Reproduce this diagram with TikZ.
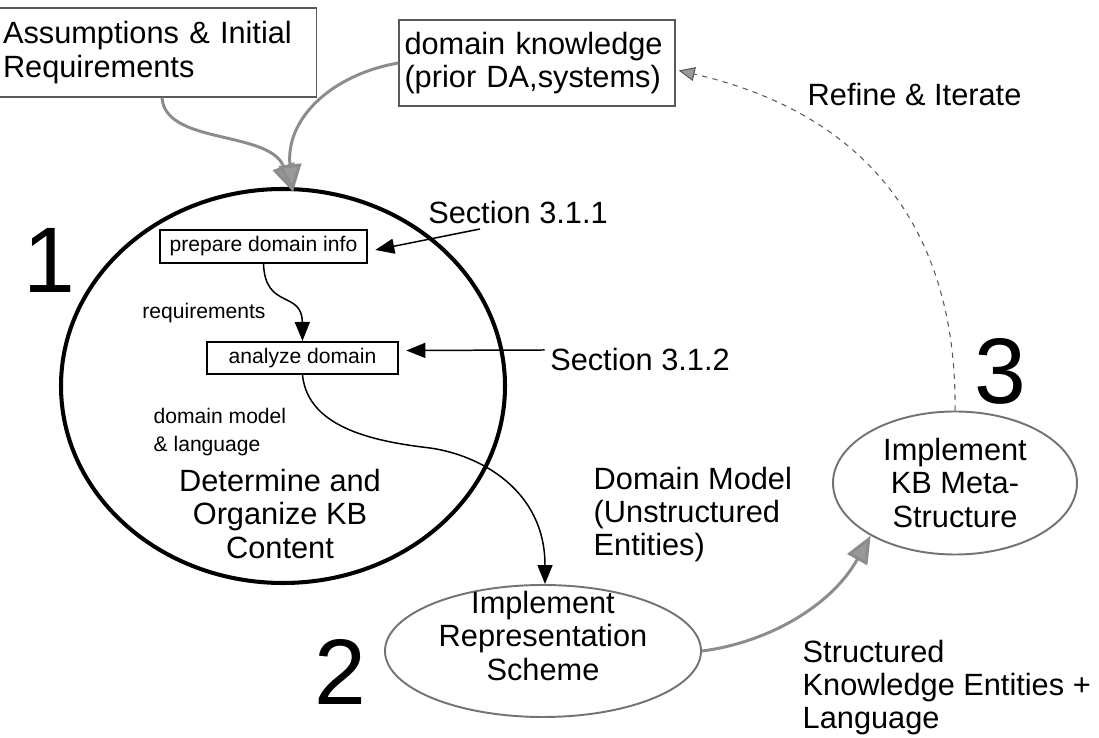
\documentclass[tikz,border=0pt]{standalone}
\usepackage{fontspec}
\setmainfont{Liberation Sans}
\usetikzlibrary{shapes.geometric,arrows.meta}

\begin{document}
\begin{tikzpicture}[thick,>={Triangle[length=3.8mm,width=3mm]},
			big text/.style={font=\fontsize{17.5}{19}\selectfont,align=center,inner sep=0pt},
			side text/.style={font=\fontsize{17.5}{18.5}\selectfont,align=left,inner sep=0pt},
			small text/.style={font=\fontsize{12}{15.5}\selectfont,align=left,inner sep=0pt},
			stage num/.style={font=\fontsize{53}{53}\selectfont,inner sep=0pt},
			input box/.style={draw=black!65,line width=0.8pt,align=left,font=\fontsize{17.5}{19}\selectfont,inner xsep=2pt},
			task box/.style={draw,line width=0.9pt,font=\fontsize{12}{14}\selectfont,minimum height=0.65cm},
			main stage/.style={ellipse,draw,line width=2.3pt,minimum width=8.88cm,minimum height=7.88cm},
			sub stage/.style={ellipse,draw=black!55,line width=1.1pt},
			flow/.style={->,black,line width=0.85pt},
			gray flow/.style={draw=black!45,line width=1.7pt,-{Triangle[length=5.5mm,width=4.5mm,fill=black!40]}},
			iterate/.style={draw=black!65,line width=0.6pt,dash pattern=on 3pt off 3pt,-{Triangle[length=3.2mm,width=2.8mm,fill=black!40]}}
			]
		\useasboundingbox (0,0) rectangle (21.98,14.76);
		% inputs
		\node [input box, minimum width=6.3cm, minimum height=1.78cm, text width=6.2cm] (assume) at (3.16,13.71) {Assumptions \& Initial\\Requirements};
		\node [input box, minimum width=5.52cm, minimum height=1.72cm, text width=5.3cm] (domk) at (10.74,13.5) {domain knowledge\\(prior DA,systems)};

		% stage 1
		\node [main stage] (content) at (5.66,7.04) {};
		\node [stage num] (n1) at (0.98,9.56) {1};
		\node [task box, minimum width=4.14cm] (prep) at (5.27,9.83) {prepare domain info};
		\node [task box, minimum width=3.82cm] (ana) at (6.05,7.6) {analyze domain};
		\node [small text] (req) at (4.08,8.5) {requirements};
		\node [small text, anchor=north west] (dmodel) at (3.06,6.6) {domain model\\\& language};
		\node [big text] (organize) at (5.6,4.48) {Determine and\\Organize KB\\Content};
		\node [big text] (sec1) at (10.36,10.5) {Section 3.1.1};
		\node [big text] (sec2) at (12.8,7.56) {Section 3.1.2};
		\coordinate (sec1 tail) at (9.6,10.18);

		% stage 2 and 3
		\node [sub stage, minimum width=6.32cm, minimum height=2.64cm] (rep) at (10.86,1.74) {};
		\node [big text] (rep text) at (10.86,2.04) {Implement\\Representation\\Scheme};
		\node [stage num] (n2) at (6.8,1.32) {2};
		\node [sub stage, minimum width=4.88cm, minimum height=2.86cm] (meta) at (19.1,5.1) {};
		\node [big text] (meta text) at (19.1,5.1) {Implement\\KB Meta-\\Structure};
		\node [stage num] (n3) at (20.0,7.34) {3};
		\node [side text, anchor=north west] (dm) at (11.86,5.42) {Domain Model\\(Unstructured\\Entities)};
		\node [side text, anchor=north west] (ske) at (16.04,1.96) {Structured\\Knowledge Entities +\\Language};
		\node [side text, anchor=west] (refine) at (16.14,12.86) {Refine \& Iterate};

		% connectors
		\draw [gray flow] ([xshift=0.8mm]assume.south) .. controls (3.3,11.86) and (5.4,12.16) .. ([xshift=2mm,yshift=-1mm]content.north);
		\draw [gray flow] (domk.west) .. controls (6.6,13.26) and (5.7,12.36) .. ([xshift=2mm,yshift=-1mm]content.north);
		\draw [flow] (sec1 tail) -- ([xshift=1.5mm,yshift=-0.7mm]prep.east);
		\draw [flow] ([xshift=-1mm,yshift=2mm]sec2.west) -- ([xshift=1.5mm,yshift=1.5mm]ana.east);
		\draw [flow] (prep.south) .. controls (5.3,8.56) and (6.04,8.96) .. (ana.north);
		\draw [flow] (ana.south) .. controls (6.16,6.16) and (7.6,5.92) .. (8.6,5.8)
			.. controls (9.6,5.66) and (10.9,4.96) .. ([xshift=0.4mm]rep.north);
		\draw [gray flow] (rep.east) .. controls (15.3,1.9) and (16.6,2.6) .. (meta.212);
		\draw [iterate] (meta.north) .. controls (19.14,9.76) and (17.7,12.4) .. ([xshift=0.6mm,yshift=-1.5mm]domk.east);
\end{tikzpicture}
\end{document}
